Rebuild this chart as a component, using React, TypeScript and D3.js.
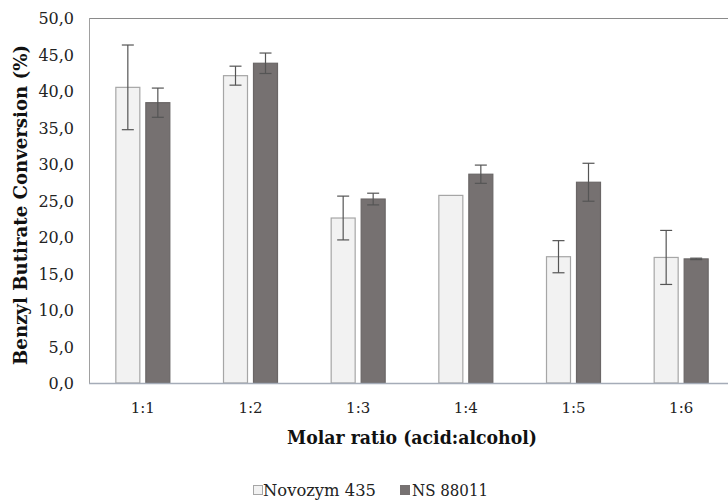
import React, { useEffect, useRef } from 'react';
import * as d3 from 'd3';

const categories = ['1:1', '1:2', '1:3', '1:4', '1:5', '1:6'];
const novozym = [40.5, 42.1, 22.6, 25.7, 17.3, 17.2];
const novozymErr = [5.8, 1.3, 3.0, 0, 2.2, 3.7];
const ns88011 = [38.4, 43.8, 25.2, 28.6, 27.5, 17.0];
const ns88011Err = [2.0, 1.4, 0.8, 1.25, 2.6, 0.1];
const yTicks = [0, 5, 10, 15, 20, 25, 30, 35, 40, 45, 50];

const W = 728;
const H = 502;
const FONT = "'DejaVu Serif', serif";

const BarChart: React.FC = () => {
  const svgRef = useRef<SVGSVGElement>(null);

  useEffect(() => {
    const svg = d3.select(svgRef.current).attr('width', W).attr('height', H);
    svg.selectAll('*').remove();

    const left = 89;
    const top = 18;
    const bottom = 383;
    const right = 735;

    const x = d3.scaleBand<string>().domain(categories).range([left, right]);
    const y = d3.scaleLinear().domain([0, 50]).range([bottom, top]);

    // plot frame (top + left)
    svg.append('line')
      .attr('x1', left).attr('x2', W).attr('y1', top + 0.5).attr('y2', top + 0.5)
      .attr('stroke', '#8a8a8a').attr('stroke-width', 1);
    svg.append('line')
      .attr('x1', left + 0.5).attr('x2', left + 0.5).attr('y1', top).attr('y2', bottom)
      .attr('stroke', '#a0a0a0').attr('stroke-width', 1);

    const series = [
      { vals: novozym, errs: novozymErr, fill: '#f2f2f2', stroke: '#a6a6a6', off: -27 },
      { vals: ns88011, errs: ns88011Err, fill: '#767171', stroke: '#6a6666', off: 3 },
    ];
    const bw = 24;

    series.forEach(s => {
      svg.append('g').selectAll('rect')
        .data(categories)
        .enter()
        .append('rect')
        .attr('x', d => x(d)! + x.bandwidth() / 2 + s.off)
        .attr('y', (d, i) => y(s.vals[i]))
        .attr('width', bw)
        .attr('height', (d, i) => bottom - y(s.vals[i]))
        .attr('fill', s.fill)
        .attr('stroke', s.stroke)
        .attr('stroke-width', 1.2);
    });

    // error bars
    series.forEach(s => {
      const g = svg.append('g').attr('stroke', '#555').attr('stroke-width', 1.2);
      categories.forEach((c, i) => {
        if (s.errs[i] <= 0) return;
        const cx = x(c)! + x.bandwidth() / 2 + s.off + bw / 2;
        const y1 = y(s.vals[i] + s.errs[i]);
        const y2 = y(s.vals[i] - s.errs[i]);
        g.append('line').attr('x1', cx).attr('x2', cx).attr('y1', y1).attr('y2', y2);
        g.append('line').attr('x1', cx - 6).attr('x2', cx + 6).attr('y1', y1).attr('y2', y1);
        g.append('line').attr('x1', cx - 6).attr('x2', cx + 6).attr('y1', y2).attr('y2', y2);
      });
    });

    // x axis line
    svg.append('line')
      .attr('x1', left).attr('x2', W).attr('y1', bottom + 0.5).attr('y2', bottom + 0.5)
      .attr('stroke', '#a5acb8').attr('stroke-width', 1.3);

    // y tick labels
    const fmt = (v: number) => v.toFixed(1).replace('.', ',');
    svg.append('g')
      .selectAll('text')
      .data(yTicks)
      .enter()
      .append('text')
      .attr('x', 74)
      .attr('y', d => y(d) + 6)
      .attr('text-anchor', 'end')
      .style('font-family', FONT)
      .style('font-size', '16px')
      .attr('fill', '#222')
      .text(d => fmt(d));

    // x tick labels
    svg.append('g')
      .selectAll('text')
      .data(categories)
      .enter()
      .append('text')
      .attr('x', d => x(d)! + x.bandwidth() / 2)
      .attr('y', 413)
      .attr('text-anchor', 'middle')
      .style('font-family', FONT)
      .style('font-size', '15px')
      .attr('fill', '#222')
      .text(d => d);

    // axis titles
    svg.append('text')
      .attr('x', 412)
      .attr('y', 444)
      .attr('text-anchor', 'middle')
      .attr('textLength', 250)
      .attr('lengthAdjust', 'spacingAndGlyphs')
      .style('font-family', FONT)
      .style('font-size', '19px')
      .style('font-weight', 'bold')
      .attr('fill', '#111')
      .text('Molar ratio (acid:alcohol)');

    svg.append('text')
      .attr('transform', 'translate(27,205) rotate(-90)')
      .attr('text-anchor', 'middle')
      .attr('textLength', 320)
      .attr('lengthAdjust', 'spacingAndGlyphs')
      .style('font-family', FONT)
      .style('font-size', '19px')
      .style('font-weight', 'bold')
      .attr('fill', '#111')
      .text('Benzyl Butirate Conversion (%)');

    // legend
    const lg = svg.append('g').style('font-family', FONT).style('font-size', '16px').attr('fill', '#222');
    lg.append('rect').attr('x', 253.5).attr('y', 485.5).attr('width', 9).attr('height', 9)
      .attr('fill', '#f2f2f2').attr('stroke', '#a6a6a6');
    lg.append('text').attr('x', 263).attr('y', 496).attr('textLength', 113)
      .attr('lengthAdjust', 'spacingAndGlyphs').text('Novozym 435');
    lg.append('rect').attr('x', 400).attr('y', 485).attr('width', 10).attr('height', 10)
      .attr('fill', '#767171');
    lg.append('text').attr('x', 412).attr('y', 496).attr('textLength', 76)
      .attr('lengthAdjust', 'spacingAndGlyphs').text('NS 88011');
  }, []);

  return <svg ref={svgRef} style={{ display: 'block' }}></svg>;
};

const App: React.FC = () => {
  return (
    <div style={{ position: 'absolute', left: 0, top: 0, width: W, height: H, background: '#fff' }}>
      <BarChart />
    </div>
  );
};

export default App;
